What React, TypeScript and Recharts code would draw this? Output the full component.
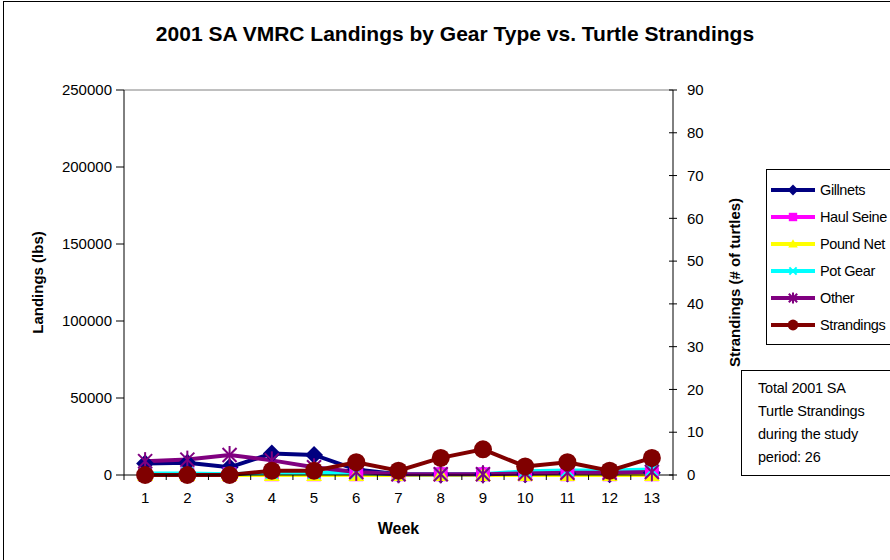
import React from "react";
import {
  ComposedChart,
  Line,
  XAxis,
  YAxis,
  ReferenceLine,
} from "recharts";

const weeks = [1, 2, 3, 4, 5, 6, 7, 8, 9, 10, 11, 12, 13];
const gillnets = [7500, 8000, 5000, 14000, 13000, 3500, 500, 300, 300, 500, 1000, 500, 1500];
const haulSeine = [500, 500, 500, 500, 500, 500, 500, 500, 500, 500, 500, 500, 500];
const poundNet = [0, 0, 0, 0, 0, 0, 0, 0, 0, 0, 0, 0, 0];
const potGear = [1000, 1000, 500, 1500, 1500, 1500, 500, 500, 500, 2500, 3000, 3000, 3500];
const other = [9000, 10000, 13000, 9500, 5000, 2000, 500, 500, 500, 1000, 1500, 1500, 2000];
const strandings = [0, 0, 0, 1, 1, 3, 1, 4, 6, 2, 3, 1, 4];

const landingTicks = [0, 50000, 100000, 150000, 200000, 250000];
const strandingTicks = [0, 10, 20, 30, 40, 50, 60, 70, 80, 90];

const data = weeks.map((w, i) => ({
  week: w,
  gillnets: gillnets[i],
  haulSeine: haulSeine[i],
  poundNet: poundNet[i],
  potGear: potGear[i],
  other: other[i],
  strandings: strandings[i],
}));

// labels at the weeks, tick marks between them (Excel style)
const xTicks = weeks.flatMap((w) => [w - 0.5, w]).concat([weeks[weeks.length - 1] + 0.5]);

const FONT = "'Liberation Sans', Arial, sans-serif";

type Shape = "diamond" | "square" | "triangle" | "x" | "star" | "circle";

function marker(shape: Shape, color: string, cx: number, cy: number, k?: any, s = 1) {
  switch (shape) {
    case "diamond":
      return <path key={k} d={`M${cx},${cy - 9 * s}L${cx + 9 * s},${cy}L${cx},${cy + 9 * s}L${cx - 9 * s},${cy}Z`} fill={color} />;
    case "square":
      return <rect key={k} x={cx - 7 * s} y={cy - 7 * s} width={14 * s} height={14 * s} fill={color} />;
    case "triangle":
      return <path key={k} d={`M${cx},${cy - 8 * s}L${cx + 8 * s},${cy + 6 * s}L${cx - 8 * s},${cy + 6 * s}Z`} fill={color} />;
    case "x":
      return (
        <g key={k} stroke={color} strokeWidth={2}>
          <line x1={cx - 6 * s} y1={cy - 6 * s} x2={cx + 6 * s} y2={cy + 6 * s} />
          <line x1={cx - 6 * s} y1={cy + 6 * s} x2={cx + 6 * s} y2={cy - 6 * s} />
        </g>
      );
    case "star":
      return (
        <g key={k} stroke={color} strokeWidth={2}>
          <line x1={cx - 7 * s} y1={cy - 7 * s} x2={cx + 7 * s} y2={cy + 7 * s} />
          <line x1={cx - 7 * s} y1={cy + 7 * s} x2={cx + 7 * s} y2={cy - 7 * s} />
          <line x1={cx} y1={cy - 9 * s} x2={cx} y2={cy + 9 * s} />
        </g>
      );
    default:
      return <circle key={k} cx={cx} cy={cy} r={9 * s} fill={color} />;
  }
}

const series: { key: string; name: string; color: string; shape: Shape; axis: string }[] = [
  { key: "gillnets", name: "Gillnets", color: "#000080", shape: "diamond", axis: "l" },
  { key: "haulSeine", name: "Haul Seine", color: "#FF00FF", shape: "square", axis: "l" },
  { key: "poundNet", name: "Pound Net", color: "#FFFF00", shape: "triangle", axis: "l" },
  { key: "potGear", name: "Pot Gear", color: "#00FFFF", shape: "x", axis: "l" },
  { key: "other", name: "Other", color: "#800080", shape: "star", axis: "l" },
  { key: "strandings", name: "Strandings", color: "#800000", shape: "circle", axis: "r" },
];

const XTick = (props: any) => {
  const { x, y, payload } = props;
  if (Number.isInteger(payload.value)) {
    return (
      <text x={x} y={y + 28} textAnchor="middle" fontSize={15} fill="#000" fontFamily={FONT}>
        {payload.value}
      </text>
    );
  }
  return <line x1={x} x2={x} y1={y} y2={y + 5} stroke="#000" />;
};

const RightTick = (props: any) => {
  const { x, y, payload } = props;
  return (
    <g>
      <line x1={x - 4} x2={x + 4} y1={y} y2={y} stroke="#000" />
      <text x={x + 14} y={y} dy="0.35em" fontSize={15} fill="#000" fontFamily={FONT}>
        {payload.value}
      </text>
    </g>
  );
};

export default function App() {
  return (
    <div
      style={{
        position: "absolute",
        left: 0,
        top: 0,
        width: 890,
        height: 560,
        overflow: "hidden",
        background: "#fff",
        fontFamily: FONT,
      }}
    >
      <div
        style={{
          position: "absolute",
          left: 3,
          top: 1,
          width: 950,
          height: 620,
          border: "1px solid #000",
        }}
      />
      <div
        style={{
          position: "absolute",
          left: 0,
          top: 22,
          width: 910,
          textAlign: "center",
          fontSize: 21,
          fontWeight: "bold",
        }}
      >
        2001 SA VMRC Landings by Gear Type vs. Turtle Strandings
      </div>

      <ComposedChart
        width={890}
        height={560}
        data={data}
        margin={{ top: 90, right: 0, left: 0, bottom: 0 }}
        style={{ position: "absolute", left: 0, top: 0 }}
      >
        <XAxis
          dataKey="week"
          type="number"
          domain={[0.5, 13.5]}
          ticks={xTicks}
          interval={0}
          tickLine={false}
          tickSize={0}
          tickMargin={0}
          tick={<XTick />}
          axisLine={{ stroke: "#000" }}
          height={85}
          label={{
            value: "Week",
            position: "insideBottom",
            offset: 26,
            fontSize: 16,
            fontWeight: "bold",
            fill: "#000",
            fontFamily: FONT,
          }}
        />
        <YAxis
          yAxisId="l"
          width={124}
          domain={[0, 250000]}
          ticks={landingTicks}
          interval={0}
          tickSize={8}
          tickMargin={4}
          tick={{ fill: "#000", fontSize: 15, fontFamily: FONT }}
          tickLine={{ stroke: "#000" }}
          axisLine={{ stroke: "#000" }}
          label={{
            value: "Landings (lbs)",
            angle: -90,
            position: "insideLeft",
            offset: 38,
            fontSize: 15,
            fontWeight: "bold",
            fill: "#000",
            fontFamily: FONT,
            style: { textAnchor: "middle" },
          }}
        />
        <YAxis
          yAxisId="r"
          orientation="right"
          width={217}
          domain={[0, 90]}
          ticks={strandingTicks}
          interval={0}
          tickSize={0}
          tickMargin={0}
          tickLine={false}
          tick={<RightTick />}
          axisLine={{ stroke: "#000" }}
          label={{
            value: "Strandings (# of turtles)",
            angle: -90,
            position: "insideLeft",
            offset: 62,
            fontSize: 15,
            fontWeight: "bold",
            fill: "#000",
            fontFamily: FONT,
            style: { textAnchor: "middle" },
          }}
        />
        <ReferenceLine yAxisId="l" y={250000} stroke="#808080" />
        {series.map((s) => (
          <Line
            key={s.key}
            yAxisId={s.axis}
            dataKey={s.key}
            name={s.name}
            stroke={s.color}
            strokeWidth={4}
            isAnimationActive={false}
            dot={(p: any) => marker(s.shape, s.color, p.cx, p.cy, `${s.key}-${p.index}`)}
            activeDot={false}
          />
        ))}
      </ComposedChart>

      {/* legend */}
      <div
        style={{
          position: "absolute",
          left: 766,
          top: 169,
          width: 160,
          height: 176,
          border: "1px solid #000",
          boxSizing: "border-box",
          background: "#fff",
          paddingTop: 6,
        }}
      >
        {series.map((s) => (
          <div key={s.key} style={{ display: "flex", alignItems: "center", height: 27 }}>
            <svg width={46} height={20} style={{ marginLeft: 3 }}>
              <line x1={1} x2={45} y1={10} y2={10} stroke={s.color} strokeWidth={4} />
              {marker(s.shape, s.color, 23, 10, undefined, 0.6)}
            </svg>
            <span style={{ fontSize: 14.5, letterSpacing: -0.4, marginLeft: 4 }}>{s.name}</span>
          </div>
        ))}
      </div>

      {/* note */}
      <div
        style={{
          position: "absolute",
          left: 741,
          top: 370,
          width: 170,
          height: 106,
          border: "1px solid #000",
          boxSizing: "border-box",
          background: "#fff",
          padding: "6px 0 0 16px",
          fontSize: 14.5,
          lineHeight: "23px",
          letterSpacing: -0.2,
        }}
      >
        Total 2001 SA
        <br />
        Turtle Strandings
        <br />
        during the study
        <br />
        period: 26
      </div>
    </div>
  );
}
